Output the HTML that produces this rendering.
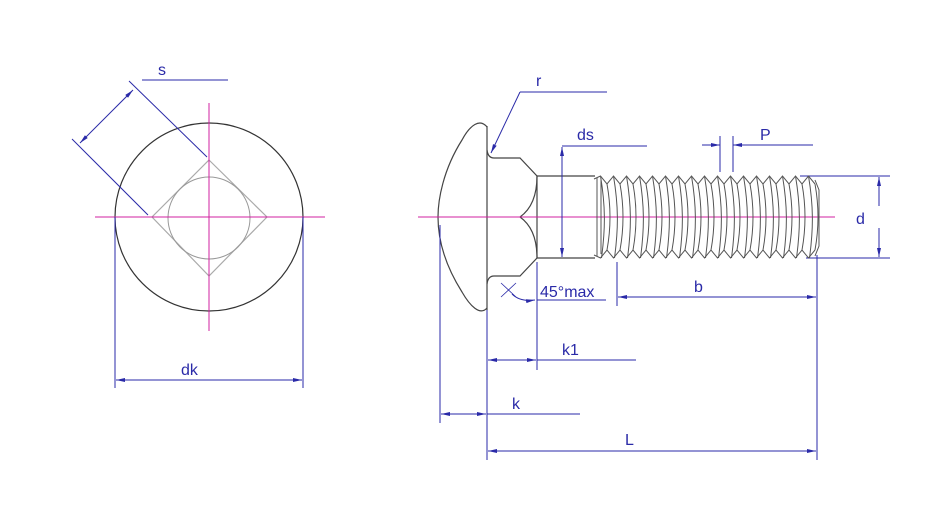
<!DOCTYPE html>
<html><head><meta charset="utf-8"><style>
html,body{margin:0;padding:0;background:#fff;width:933px;height:507px;overflow:hidden}
svg{display:block}
text{font-family:"Liberation Sans",sans-serif;font-size:16px;fill:#2a2aa8}
</style></head><body>
<svg id="s" width="933" height="507" viewBox="0 0 933 507" xmlns="http://www.w3.org/2000/svg">
<defs>
<marker id="a" markerWidth="10" markerHeight="6" refX="9" refY="3" orient="auto-start-reverse" markerUnits="userSpaceOnUse"><path d="M0,1 L9,3 L0,5 Z" fill="#2a2aa8"/></marker>
</defs>
<g fill="none">
<circle cx="209" cy="217" r="94" stroke="#333" stroke-width="1.2"/>
<path d="M209,160 L267,217 L209,276 L152,217 Z" stroke="#aaa" stroke-width="1.2"/>
<circle cx="209" cy="218" r="41" stroke="#999" stroke-width="1"/>
<line x1="209" y1="103" x2="209" y2="331" stroke="#d020a0" stroke-width="1"/>
<line x1="95" y1="217" x2="325" y2="217" stroke="#d020a0" stroke-width="1"/>
<g stroke="#2a2aa8" stroke-width="1">
<line x1="72" y1="139" x2="148" y2="215"/>
<line x1="129" y1="81" x2="207" y2="157"/>
<line x1="80" y1="143" x2="133" y2="90" marker-start="url(#a)" marker-end="url(#a)"/>
<line x1="142" y1="80" x2="228" y2="80"/>
<line x1="115" y1="217" x2="115" y2="388"/>
<line x1="303" y1="217" x2="303" y2="388"/>
<line x1="116" y1="380" x2="302" y2="380" marker-start="url(#a)" marker-end="url(#a)"/>
</g>
</g>
<text x="158" y="75">s</text>
<text x="181" y="375">dk</text>

<g id="bolt" fill="none" stroke="#444" stroke-width="1.2">
<path d="M487,127 C480,118 470,125 462,140 C443,170 438,200 438,217 C438,240 445,265 462,292 C470,306 480,316 487,308"/>
<line x1="487" y1="126" x2="487" y2="310"/>
<path d="M487,150 Q488,158 494,158 L520,158 L537,176 Q537,205 520,217 Q537,229 537,258 L520,276 L494,276 Q488,276 487,284"/>
<line x1="537" y1="176" x2="595" y2="176"/>
<line x1="537" y1="258" x2="595" y2="258"/>
<line x1="537" y1="176" x2="537" y2="258"/>
</g>
<line x1="418" y1="217" x2="835" y2="217" stroke="#d020a0" stroke-width="1"/>

<g stroke="#2a2aa8" stroke-width="1" fill="none">
<line x1="520" y1="92" x2="607" y2="92"/>
<line x1="520" y1="92" x2="491" y2="153" marker-end="url(#a)"/>
<line x1="562" y1="146" x2="647" y2="146"/>
<line x1="562" y1="147" x2="562" y2="257" marker-start="url(#a)" marker-end="url(#a)"/>
<line x1="720" y1="136" x2="720" y2="172"/>
<line x1="733" y1="136" x2="733" y2="172"/>
<line x1="702" y1="145" x2="720" y2="145" marker-end="url(#a)"/>
<line x1="813" y1="145" x2="733" y2="145" marker-end="url(#a)"/>
<line x1="800" y1="176" x2="890" y2="176"/>
<line x1="806" y1="258" x2="890" y2="258"/>
<line x1="879" y1="177" x2="879" y2="206" marker-start="url(#a)"/>
<line x1="879" y1="228" x2="879" y2="257" marker-end="url(#a)"/>
<line x1="617" y1="262" x2="617" y2="306"/>
<line x1="817" y1="255" x2="817" y2="460"/>
<line x1="618" y1="297" x2="816" y2="297" marker-start="url(#a)" marker-end="url(#a)"/>
<line x1="537" y1="262" x2="537" y2="370"/>
<line x1="537" y1="300" x2="606" y2="300"/>
<line x1="501" y1="283" x2="516" y2="297" stroke-width="0.8"/>
<line x1="516" y1="283" x2="501" y2="297" stroke-width="0.8"/>
<path d="M512,294 Q520,302 535,300" marker-end="url(#a)"/>
<line x1="487" y1="310" x2="487" y2="460"/>
<line x1="440" y1="225" x2="440" y2="423"/>
<line x1="488" y1="360" x2="536" y2="360" marker-start="url(#a)" marker-end="url(#a)"/>
<line x1="537" y1="360" x2="636" y2="360"/>
<line x1="441" y1="414" x2="486" y2="414" marker-start="url(#a)" marker-end="url(#a)"/>
<line x1="487" y1="414" x2="580" y2="414"/>
<line x1="488" y1="451" x2="816" y2="451" marker-start="url(#a)" marker-end="url(#a)"/>
</g>
<text x="536" y="86">r</text>
<text x="577" y="140">ds</text>
<text x="760" y="140">P</text>
<text x="856" y="224">d</text>
<text x="694" y="292">b</text>
<text x="540" y="297">45°max</text>
<text x="562" y="355">k1</text>
<text x="512" y="409">k</text>
<text x="625" y="445">L</text>
</svg>
<script>
(function(){
var s=document.getElementById('s'),ns='http://www.w3.org/2000/svg';
var p=13,x0=594,top=176,bot=258;
var up='M'+x0+','+(top+3),dn='M'+(x0)+','+(bot-3),sl='';
for(var i=0;i<17;i++){
 var x=x0+i*p;
 up+=' L'+(x+p/2)+','+top+' L'+(x+p)+','+(top+8);
 dn+=' L'+(x+p/2)+','+bot+' L'+(x+p)+','+(bot-8);
 sl+=' M'+(x+p/2)+','+top+' C'+(x+p/2+5)+','+(top+30)+' '+(x+p/2+5)+','+(bot-30)+' '+(x+p/2+1)+','+bot;
 sl+=' M'+(x+p)+','+(top+8)+' C'+(x+p+4)+','+(top+30)+' '+(x+p+4)+','+(bot-30)+' '+(x+p)+','+(bot-8);
}
sl+=' M597,178 L597,256 M601,180 L601,254';
sl+=' M815,180 L819,190 L819,246 L815,256';
[up,dn,sl].forEach(function(d){var e=document.createElementNS(ns,'path');e.setAttribute('d',d);e.setAttribute('fill','none');e.setAttribute('stroke','#555');e.setAttribute('stroke-width','1');s.appendChild(e);});
})();
</script>
</body></html>
